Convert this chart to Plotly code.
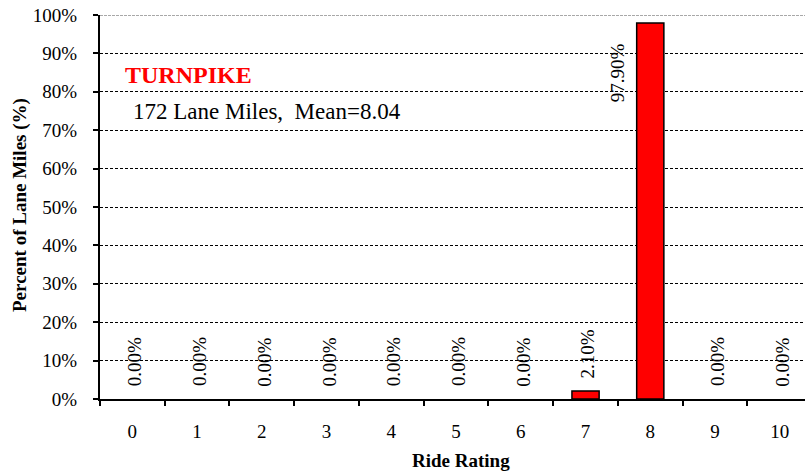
import plotly.graph_objects as go

categories = ["0", "1", "2", "3", "4", "5", "6", "7", "8", "9", "10"]
percent_values = [0.0, 0.0, 0.0, 0.0, 0.0, 0.0, 0.0, 2.10, 97.90, 0.0, 0.0]
value_labels = ["0.00%", "0.00%", "0.00%", "0.00%", "0.00%", "0.00%", "0.00%", "2.10%", "97.90%", "0.00%", "0.00%"]
y_tickvals = [0, 10, 20, 30, 40, 50, 60, 70, 80, 90, 100]
y_ticktext = ["0%", "10%", "20%", "30%", "40%", "50%", "60%", "70%", "80%", "90%", "100%"]
title_text = "TURNPIKE"
subtitle_text = "172 Lane Miles,  Mean=8.04"
x_title = "Ride Rating"
y_title = "Percent of Lane Miles (%)"

FONT = "Liberation Serif"

fig = go.Figure()
fig.add_trace(go.Bar(
    x=categories, y=percent_values,
    marker=dict(color="#FF0000",
                line=dict(color="black", width=[1.5 if v > 0 else 0 for v in percent_values])),
    width=0.42,
    hoverinfo="skip",
))

annotations = []
for i, (v, lab) in enumerate(zip(percent_values, value_labels)):
    if v > 90:
        annotations.append(dict(x=i, y=v, xref="x", yref="y", text=lab, textangle=-90,
                                showarrow=False, xanchor="center", yanchor="middle",
                                xshift=-33, yshift=-50,
                                font=dict(family=FONT, size=19, color="black")))
    else:
        annotations.append(dict(x=i, y=v, xref="x", yref="y", text=lab, textangle=-90,
                                showarrow=False, xanchor="center", yanchor="middle",
                                xshift=2, yshift=37,
                                font=dict(family=FONT, size=19, color="black")))

annotations += [
    dict(x=123, y=75, xref="paper", yref="paper", text="<b>" + title_text + "</b>", showarrow=False,
         xanchor="left", yanchor="middle", font=dict(family=FONT, size=24, color="#FF0000")),
    dict(x=131, y=111, xref="paper", yref="paper", text=subtitle_text, showarrow=False,
         xanchor="left", yanchor="middle", font=dict(family=FONT, size=23, color="black")),
    dict(x=461, y=460, xref="paper", yref="paper", text="<b>" + x_title + "</b>", showarrow=False,
         xanchor="center", yanchor="middle", font=dict(family=FONT, size=19, color="black")),
    dict(x=20, y=205, xref="paper", yref="paper", text="<b>" + y_title + "</b>", showarrow=False,
         textangle=-90, xanchor="center", yanchor="middle", font=dict(family=FONT, size=19, color="black")),
]

W, H = 805, 471
ML, MR, MT, MB = 100, 0, 15, 72
pw, ph = W - ML - MR, H - MT - MB
for a in annotations:
    if a.get("xref") == "paper":
        a["x"] = (a["x"] - ML) / pw
        a["y"] = (H - MB - a["y"]) / ph

shapes = [
    dict(type="line", xref="paper", yref="y", x0=0, x1=1, y0=100, y1=100,
         line=dict(color="white", width=2), layer="above"),
    dict(type="line", xref="paper", yref="y", x0=0, x1=1, y0=100, y1=100,
         line=dict(color="#8c8c8c", width=1.5, dash="3px,1px"), layer="above"),
]

fig.update_layout(
    width=W, height=H,
    margin=dict(l=ML, r=MR, t=MT, b=MB, pad=0),
    paper_bgcolor="white", plot_bgcolor="white",
    showlegend=False,
    font=dict(family=FONT, size=19, color="black"),
    annotations=annotations,
    shapes=shapes,
    bargap=0.58,
)
fig.update_xaxes(
    type="category", range=[-0.5, 10.39],
    showline=True, linecolor="black", linewidth=2,
    ticks="outside", tickson="boundaries", ticklen=5, tickwidth=2, tickcolor="black",
    showgrid=False, ticklabelstandoff=14,
    tickfont=dict(family=FONT, size=19, color="black"),
    fixedrange=True,
)
fig.update_yaxes(
    range=[0, 100], tickvals=y_tickvals, ticktext=y_ticktext,
    showline=True, linecolor="black", linewidth=2,
    ticks="outside", ticklen=5, tickwidth=2, tickcolor="black",
    showgrid=True, gridcolor="black", gridwidth=1, griddash="3px,2px",
    zeroline=False, ticklabelstandoff=12, ticklabeloverflow="allow",
    tickfont=dict(family=FONT, size=19, color="black"),
    fixedrange=True,
)
# remove the browser's default 8px body margin so the figure sits at the page corner
fig.write_html("out.html", config={"displayModeBar": False},
               post_script="document.body.style.margin='0px';document.body.style.overflow='hidden';")
